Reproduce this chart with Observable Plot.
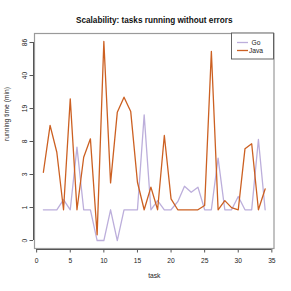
<!DOCTYPE html>
<html>
<head>
<meta charset="utf-8">
<script src="https://cdn.jsdelivr.net/npm/d3@7"></script>
<script src="https://cdn.jsdelivr.net/npm/@observablehq/plot@0.6"></script>
<style>
  html, body { margin: 0; padding: 0; background: #fff; }
  svg { display: block; }
</style>
</head>
<body>
<div id="chart"></div>
<script>
const tasks = d3.range(1, 35);
const goValues = [1, 1, 1, 1.52, 1, 7.2, 1, 1, 0, 0, 1, 0, 1, 1, 1, 16.0, 1, 1.46, 1, 1, 1.4, 2.4, 1.97, 2.33, 1, 1, 5.4, 1, 1, 1.7, 1, 1, 8.75, 1];
const javaValues = [3.66, 12.4, 6.32, 1, 23.4, 1, 5.54, 8.9, 0.137, 87.8, 2.67, 17.0, 24.3, 17.3, 2.72, 1, 2.33, 1, 9.67, 1.56, 1, 1, 1, 1, 1.2, 69.9, 1, 1.46, 1.1, 1, 6.9, 7.85, 1, 2.2];
const yTickPositions = [0, 1.104, 3.43, 8.32, 18.6, 40.26, 85.8];
const yTickLabels = ["0", "1", "3", "8", "19", "40", "86"];
const xTicks = [0, 5, 10, 15, 20, 25, 30, 35];
const seriesNames = ["Go", "Java"];
const seriesColors = ["#bcaedb", "#cc6022"];

const rows = [];
tasks.forEach((t, i) => rows.push({task: t, value: goValues[i], series: "Go"}));
tasks.forEach((t, i) => rows.push({task: t, value: javaValues[i], series: "Java"}));

const font = "'Liberation Sans', Arial, Helvetica, sans-serif";

const plot = Plot.plot({
  width: 291,
  height: 291,
  marginLeft: 34,
  marginRight: 17.5,
  marginTop: 33,
  marginBottom: 43,
  style: {fontFamily: font, background: "#fff", color: "#222"},
  x: {domain: [-0.32, 35.32]},
  y: {type: "symlog", constant: 1, domain: [-0.197, 105.4]},
  color: {domain: seriesNames, range: seriesColors},
  marks: [
    Plot.frame({stroke: "#9a9a9a", strokeWidth: 1.2}),
    Plot.line(rows, {x: "task", y: "value", stroke: "series", z: "series", strokeWidth: 1.3}),
    Plot.ruleY([-0.197], {x1: 0, x2: 35, stroke: "#555", dy: 1}),
    Plot.ruleX([-0.32], {y1: 0, y2: 85.8, stroke: "#555", dx: -1}),
    Plot.axisX({ticks: xTicks, tickSize: 3.5, tickPadding: 5, fontSize: 6.7, dy: 1, stroke: "#555", label: null}),
    Plot.axisY({ticks: yTickPositions, tickFormat: (d, i) => yTickLabels[i], tickSize: 3.5, tickPadding: 3, tickRotate: -90, fontSize: 6.7, dx: -1, stroke: "#555", label: null}),
    Plot.text(["Scalability: tasks running without errors"], {frameAnchor: "top", dy: -16, fontWeight: "bold", fontSize: 8.2, fill: "#111"}),
    Plot.text(["task"], {frameAnchor: "bottom", dy: 29, fontSize: 6.7, fill: "#222"}),
    Plot.text(["running time (min)"], {frameAnchor: "left", dx: -28, rotate: -90, fontSize: 6.7, fill: "#222"})
  ]
});

// legend (top-right corner, pixel layout)
const svg = d3.select(plot);
const lg = svg.append("g").attr("font-family", font).attr("font-size", 6.7);
lg.append("rect").attr("x", 231.5).attr("y", 33).attr("width", 42).attr("height", 26)
  .attr("fill", "#fff").attr("stroke", "#555").attr("stroke-width", 0.9);
seriesNames.forEach((name, i) => {
  const y = 42.5 + i * 8;
  lg.append("line").attr("x1", 237).attr("x2", 248).attr("y1", y).attr("y2", y)
    .attr("stroke", seriesColors[i]).attr("stroke-width", 1.3);
  lg.append("text").attr("x", 256).attr("y", y).attr("dy", "0.35em").attr("fill", "#222").text(name);
});

document.getElementById("chart").appendChild(plot);
</script>
</body>
</html>
